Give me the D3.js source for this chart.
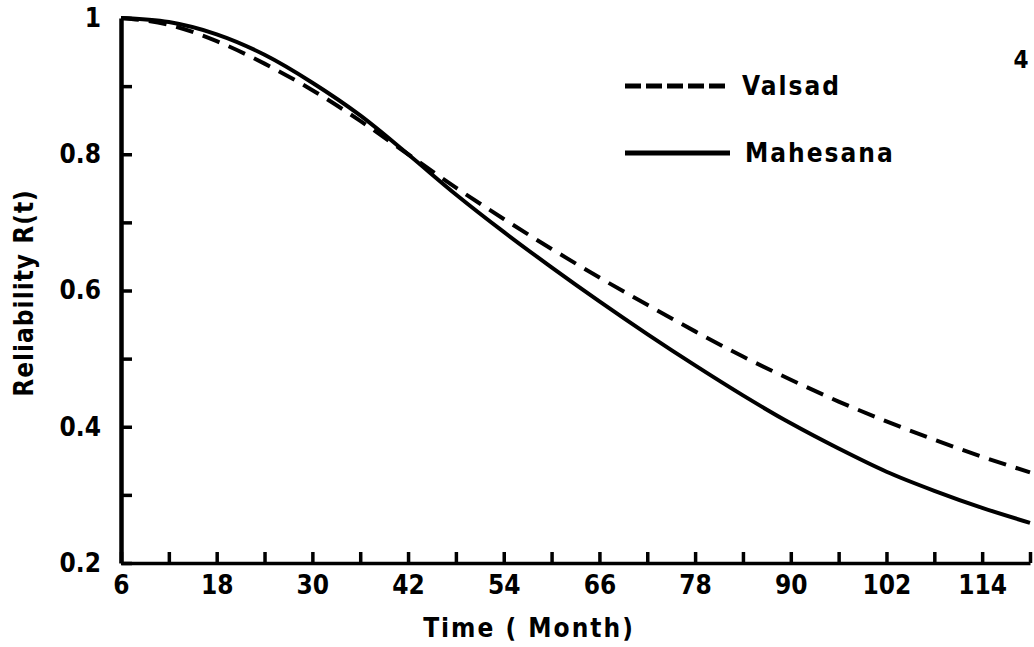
<!DOCTYPE html>
<html>
<head>
<meta charset="utf-8">
<script src="https://cdnjs.cloudflare.com/ajax/libs/d3/7.8.5/d3.min.js"></script>
<style>
  body { margin: 0; background: #fff; }
  text { font-family: "DejaVu Sans", sans-serif; font-stretch: condensed; font-weight: bold; fill: #000; }
</style>
</head>
<body>
<script>
var w = 1034;
var h = 647;

// months, read every 6 months
var months = [6, 12, 18, 24, 30, 36, 42, 48, 54, 60, 66, 72, 78, 84, 90, 96, 102, 108, 114, 120];
var valsad = [1.000, 0.990, 0.966, 0.933, 0.894, 0.849, 0.800, 0.751, 0.705, 0.661, 0.619, 0.579, 0.540, 0.503, 0.469, 0.437, 0.408, 0.381, 0.356, 0.333];
var mahesana = [1.000, 0.994, 0.976, 0.946, 0.905, 0.857, 0.800, 0.741, 0.686, 0.634, 0.584, 0.536, 0.490, 0.446, 0.405, 0.368, 0.334, 0.306, 0.281, 0.259];

var xTicks = [6, 12, 18, 24, 30, 36, 42, 48, 54, 60, 66, 72, 78, 84, 90, 96, 102, 108, 114, 120];
var xLabels = [6, 18, 30, 42, 54, 66, 78, 90, 102, 114];
var yTicks = [0.2, 0.3, 0.4, 0.5, 0.6, 0.7, 0.8, 0.9, 1.0];
var yLabels = {0.2: "0.2", 0.4: "0.4", 0.6: "0.6", 0.8: "0.8", 1: "1"};

var series = [
  {name: "Valsad", values: valsad, dash: "18,10", legendDash: "16,5"},
  {name: "Mahesana", values: mahesana, dash: null, legendDash: null}
];

var x = d3.scaleLinear().domain([6, 120]).range([121, 1030]);
var y = d3.scaleLinear().domain([0.2, 1]).range([563, 18]);

var svg = d3.select("body")
            .append("svg")
              .attr("width", w)
              .attr("height", h);

// x axis, ticks pointing up
var xAxis = svg.append("g")
    .attr("transform", "translate(0," + y(0.2) + ")")
    .call(d3.axisBottom(x)
      .tickValues(xTicks)
      .tickSizeInner(-11)
      .tickSizeOuter(0)
      .tickPadding(13)
      .tickFormat(function(d) { return xLabels.indexOf(d) >= 0 ? d : ""; }));
xAxis.select(".domain").attr("stroke-width", 3.5);
xAxis.selectAll(".tick line").attr("stroke-width", 3.5);
xAxis.selectAll(".tick text").style("font-size", "26px").attr("font-family", null);

// y axis, ticks pointing right
var yAxis = svg.append("g")
    .attr("transform", "translate(" + x(6) + ",0)")
    .call(d3.axisLeft(y)
      .tickValues(yTicks)
      .tickSizeInner(-11)
      .tickSizeOuter(0)
      .tickPadding(20)
      .tickFormat(function(d) { return yLabels[d] || ""; }));
yAxis.select(".domain").attr("stroke-width", 4.5);
yAxis.selectAll(".tick line").attr("stroke-width", 3.5);
yAxis.selectAll(".tick text").style("font-size", "26px").attr("font-family", null);

svg.selectAll("g .domain").attr("fill", "none");

var line = d3.line()
    .x(function(d, i) { return x(months[i]); })
    .y(function(d) { return y(d); })
    .curve(d3.curveMonotoneX);

svg.selectAll(".curve")
    .data(series)
    .enter()
    .append("path")
      .attr("class", "curve")
      .attr("d", function(d) { return line(d.values); })
      .attr("fill", "none")
      .attr("stroke", "#000")
      .attr("stroke-width", 4)
      .attr("stroke-dasharray", function(d) { return d.dash; });

// legend
var legend = svg.selectAll(".legend")
    .data(series)
    .enter()
    .append("g")
      .attr("class", "legend")
      .attr("transform", function(d, i) { return "translate(625," + (86 + i * 67) + ")"; });

legend.append("line")
    .attr("x1", 0)
    .attr("x2", 105)
    .attr("stroke", "#000")
    .attr("stroke-width", 5)
    .attr("stroke-dasharray", function(d) { return d.legendDash; });

legend.append("text")
    .attr("x", function(d, i) { return i == 0 ? 117 : 120; })
    .attr("y", 9)
    .style("font-size", "26px")
    .style("letter-spacing", "2px")
    .text(function(d) { return d.name; });

// axis titles
svg.append("text")
    .attr("x", 529)
    .attr("y", 637)
    .attr("text-anchor", "middle")
    .style("font-size", "26px")
    .style("letter-spacing", "2px")
    .text("Time ( Month)");

svg.append("text")
    .attr("transform", "translate(33,293) rotate(-90)")
    .attr("text-anchor", "middle")
    .style("font-size", "26px")
    .style("letter-spacing", "1px")
    .text("Reliability R(t)");

svg.append("text")
    .attr("x", 1021)
    .attr("y", 68)
    .attr("text-anchor", "middle")
    .style("font-size", "24px")
    .text("4");
</script>
</body>
</html>
